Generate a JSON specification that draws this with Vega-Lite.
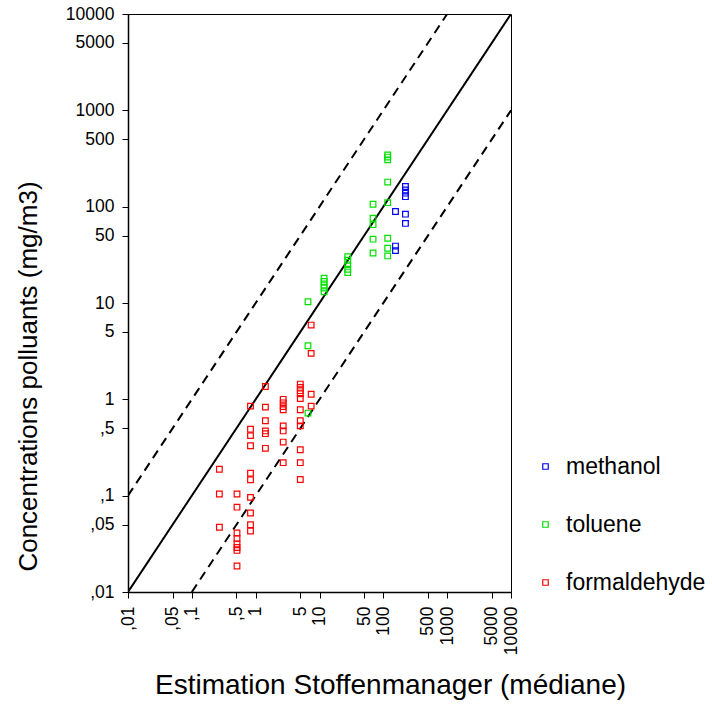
{
  "$schema": "https://vega.github.io/schema/vega-lite/v6.json",
  "width": 383,
  "height": 578,
  "autosize": {"type": "none"},
  "padding": {"left": 128, "top": 14, "right": 201, "bottom": 134},
  "background": "white",
  "config": {
    "font": "Liberation Sans",
    "view": {"stroke": "black", "strokeWidth": 1},
    "axis": {
      "domainColor": "black", "domainWidth": 1.5, "tickColor": "black", "tickWidth": 1, "tickSize": 6,
      "labelColor": "black", "labelFontSize": 17.5, "titleColor": "black",
      "titleFontWeight": "normal", "grid": false
    }
  },
  "datasets": {
    "pts": [
      {"x": 7.4, "y": 5.9, "s": "formaldehyde"},
      {"x": 7.4, "y": 3.0, "s": "formaldehyde"},
      {"x": 7.4, "y": 1.13, "s": "formaldehyde"},
      {"x": 7.4, "y": 0.85, "s": "formaldehyde"},
      {"x": 5, "y": 1.44, "s": "formaldehyde"},
      {"x": 5, "y": 1.33, "s": "formaldehyde"},
      {"x": 5, "y": 1.23, "s": "formaldehyde"},
      {"x": 5, "y": 1.14, "s": "formaldehyde"},
      {"x": 5, "y": 1.02, "s": "formaldehyde"},
      {"x": 5, "y": 0.78, "s": "formaldehyde"},
      {"x": 5, "y": 0.60, "s": "formaldehyde"},
      {"x": 5, "y": 0.53, "s": "formaldehyde"},
      {"x": 5, "y": 0.30, "s": "formaldehyde"},
      {"x": 5, "y": 0.22, "s": "formaldehyde"},
      {"x": 5, "y": 0.147, "s": "formaldehyde"},
      {"x": 1.42, "y": 1.36, "s": "formaldehyde"},
      {"x": 1.42, "y": 0.83, "s": "formaldehyde"},
      {"x": 1.42, "y": 0.60, "s": "formaldehyde"},
      {"x": 1.42, "y": 0.47, "s": "formaldehyde"},
      {"x": 1.42, "y": 0.44, "s": "formaldehyde"},
      {"x": 1.42, "y": 0.31, "s": "formaldehyde"},
      {"x": 2.7, "y": 1.0, "s": "formaldehyde"},
      {"x": 2.7, "y": 0.92, "s": "formaldehyde"},
      {"x": 2.7, "y": 0.84, "s": "formaldehyde"},
      {"x": 2.7, "y": 0.78, "s": "formaldehyde"},
      {"x": 2.7, "y": 0.53, "s": "formaldehyde"},
      {"x": 2.7, "y": 0.47, "s": "formaldehyde"},
      {"x": 2.7, "y": 0.36, "s": "formaldehyde"},
      {"x": 2.7, "y": 0.22, "s": "formaldehyde"},
      {"x": 0.83, "y": 0.85, "s": "formaldehyde"},
      {"x": 0.83, "y": 0.49, "s": "formaldehyde"},
      {"x": 0.83, "y": 0.42, "s": "formaldehyde"},
      {"x": 0.83, "y": 0.33, "s": "formaldehyde"},
      {"x": 0.83, "y": 0.171, "s": "formaldehyde"},
      {"x": 0.83, "y": 0.146, "s": "formaldehyde"},
      {"x": 0.83, "y": 0.096, "s": "formaldehyde"},
      {"x": 0.83, "y": 0.066, "s": "formaldehyde"},
      {"x": 0.83, "y": 0.050, "s": "formaldehyde"},
      {"x": 0.83, "y": 0.043, "s": "formaldehyde"},
      {"x": 0.27, "y": 0.188, "s": "formaldehyde"},
      {"x": 0.27, "y": 0.104, "s": "formaldehyde"},
      {"x": 0.27, "y": 0.047, "s": "formaldehyde"},
      {"x": 0.51, "y": 0.104, "s": "formaldehyde"},
      {"x": 0.51, "y": 0.076, "s": "formaldehyde"},
      {"x": 0.51, "y": 0.041, "s": "formaldehyde"},
      {"x": 0.51, "y": 0.036, "s": "formaldehyde"},
      {"x": 0.51, "y": 0.0315, "s": "formaldehyde"},
      {"x": 0.51, "y": 0.029, "s": "formaldehyde"},
      {"x": 0.51, "y": 0.027, "s": "formaldehyde"},
      {"x": 0.51, "y": 0.0186, "s": "formaldehyde"},
      {"x": 6.6, "y": 10.3, "s": "toluene"},
      {"x": 6.6, "y": 3.6, "s": "toluene"},
      {"x": 6.6, "y": 0.72, "s": "toluene"},
      {"x": 11.8, "y": 18.1, "s": "toluene"},
      {"x": 11.8, "y": 16.7, "s": "toluene"},
      {"x": 11.8, "y": 15.4, "s": "toluene"},
      {"x": 11.8, "y": 14.3, "s": "toluene"},
      {"x": 11.8, "y": 13.1, "s": "toluene"},
      {"x": 27.7, "y": 30.3, "s": "toluene"},
      {"x": 27.7, "y": 27.8, "s": "toluene"},
      {"x": 27.7, "y": 24.9, "s": "toluene"},
      {"x": 27.7, "y": 22.4, "s": "toluene"},
      {"x": 27.7, "y": 20.7, "s": "toluene"},
      {"x": 69, "y": 106, "s": "toluene"},
      {"x": 69, "y": 76, "s": "toluene"},
      {"x": 69, "y": 65, "s": "toluene"},
      {"x": 69, "y": 46, "s": "toluene"},
      {"x": 69, "y": 33, "s": "toluene"},
      {"x": 117, "y": 345, "s": "toluene"},
      {"x": 117, "y": 327, "s": "toluene"},
      {"x": 117, "y": 306, "s": "toluene"},
      {"x": 117, "y": 180, "s": "toluene"},
      {"x": 117, "y": 110, "s": "toluene"},
      {"x": 117, "y": 47, "s": "toluene"},
      {"x": 117, "y": 37, "s": "toluene"},
      {"x": 117, "y": 30.8, "s": "toluene"},
      {"x": 222, "y": 162, "s": "methanol"},
      {"x": 222, "y": 149, "s": "methanol"},
      {"x": 222, "y": 138, "s": "methanol"},
      {"x": 222, "y": 127, "s": "methanol"},
      {"x": 222, "y": 83.6, "s": "methanol"},
      {"x": 222, "y": 67, "s": "methanol"},
      {"x": 155, "y": 89, "s": "methanol"},
      {"x": 155, "y": 39, "s": "methanol"},
      {"x": 155, "y": 35, "s": "methanol"}
    ],
    "lines": [
      {"x": 0.01, "y": 0.01, "k": "identity"},
      {"x": 10000, "y": 10000, "k": "identity"},
      {"x": 0.01, "y": 0.1, "k": "upper"},
      {"x": 1000, "y": 10000, "k": "upper"},
      {"x": 0.1, "y": 0.01, "k": "lower"},
      {"x": 10000, "y": 1000, "k": "lower"}
    ]
  },
  "layer": [
    {
      "data": {"name": "lines"},
      "mark": {"type": "line", "color": "black", "strokeWidth": 2, "clip": true},
      "encoding": {
        "x": {"field": "x", "type": "quantitative"},
        "y": {"field": "y", "type": "quantitative"},
        "detail": {"field": "k"},
        "strokeDash": {"field": "k", "type": "nominal", "scale": {"domain": ["identity", "upper", "lower"], "range": [[1, 0], [9, 6], [9, 6]]}, "legend": null}
      }
    },
    {
      "data": {"name": "pts"},
      "mark": {"type": "point", "shape": "square", "filled": false, "size": 32, "strokeWidth": 1.2, "opacity": 1},
      "encoding": {
        "x": {
          "field": "x", "type": "quantitative",
          "scale": {"type": "log", "domain": [0.01, 10000], "nice": false},
          "axis": {
            "values": [0.01, 0.05, 0.1, 0.5, 1, 5, 10, 50, 100, 500, 1000, 5000, 10000],
            "labelExpr": "datum.value < 1 ? replace(format(datum.value, '~g'), '0.', ',') : format(datum.value, 'd')",
            "labelAngle": 270, "labelPadding": 8, "title": "Estimation Stoffenmanager (médiane)",
            "titleFontSize": 28, "titleX": 262, "titleY": 101, "titleBaseline": "alphabetic", "titleAlign": "center"
          }
        },
        "y": {
          "field": "y", "type": "quantitative",
          "scale": {"type": "log", "domain": [0.01, 10000], "nice": false},
          "axis": {
            "values": [0.01, 0.05, 0.1, 0.5, 1, 5, 10, 50, 100, 500, 1000, 5000, 10000],
            "labelExpr": "datum.value < 1 ? replace(format(datum.value, '~g'), '0.', ',') : format(datum.value, 'd')",
            "labelPadding": 8, "title": "Concentrations polluants (mg/m3)",
            "titleFontSize": 26, "titleX": -92, "titleY": 362, "titleBaseline": "alphabetic", "titleAlign": "center", "titleAngle": 270
          }
        },
        "color": {
          "field": "s", "type": "nominal",
          "scale": {"domain": ["methanol", "toluene", "formaldehyde"], "range": ["#0000ff", "#00e000", "#ff0000"]},
          "legend": {
            "title": null, "orient": "none", "legendX": 406, "legendY": 441,
            "labelFontSize": 23, "labelColor": "black", "symbolSize": 30, "symbolType": "square",
            "symbolFillColor": "transparent", "symbolStrokeWidth": 1.2, "labelOffset": 9, "rowPadding": 34, "padding": 0
          }
        }
      }
    }
  ]
}
